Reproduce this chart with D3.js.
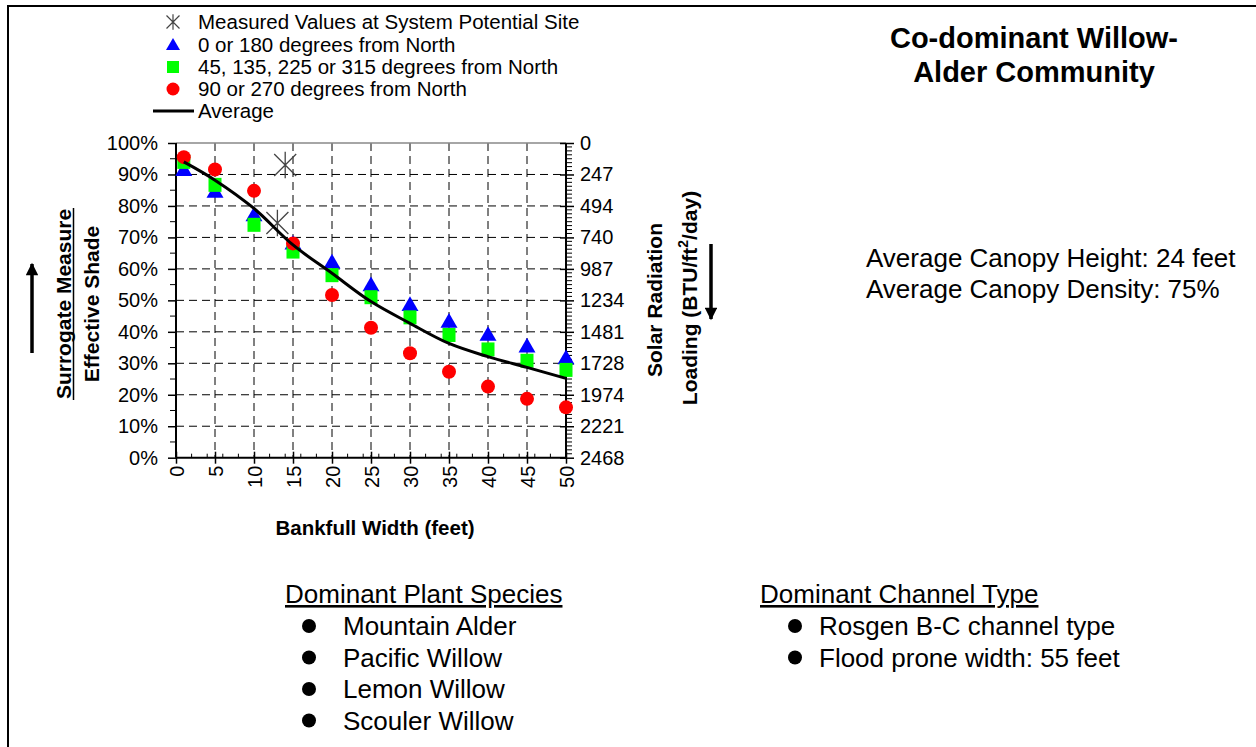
<!DOCTYPE html>
<html lang="en">
<head>
<meta charset="UTF-8">
<title>Co-dominant Willow-Alder Community</title>
<script src="https://d3js.org/d3.v7.min.js"></script>
<style>
  body { margin: 0; background: #fff; }
  svg { display: block; font-family: "Liberation Sans", Arial, sans-serif; }
</style>
</head>
<body>
<svg width="1256" height="747"></svg>
<script>
// data
const widths = [1, 5, 10, 15, 20, 25, 30, 35, 40, 45, 50];
const northSouth = [0.914, 0.845, 0.77, 0.68, 0.62, 0.548, 0.485, 0.432, 0.39, 0.353, 0.316];
const diagonal = [0.94, 0.867, 0.74, 0.655, 0.58, 0.51, 0.446, 0.39, 0.344, 0.308, 0.279];
const eastWest = [0.955, 0.916, 0.848, 0.681, 0.517, 0.413, 0.332, 0.273, 0.226, 0.187, 0.16];
const average = [0.94, 0.882, 0.792, 0.676, 0.586, 0.496, 0.427, 0.363, 0.321, 0.287, 0.252];
const measuredX = [14, 13];
const measuredY = [0.93, 0.746];
const xTicks = [0, 5, 10, 15, 20, 25, 30, 35, 40, 45, 50];
const yTicks = [0, 0.1, 0.2, 0.3, 0.4, 0.5, 0.6, 0.7, 0.8, 0.9, 1];
const loadTicks = [0, 247, 494, 740, 987, 1234, 1481, 1728, 1974, 2221, 2468];
const species = ["Mountain Alder", "Pacific Willow", "Lemon Willow", "Scouler Willow"];
const channel = ["Rosgen B-C channel type", "Flood prone width: 55 feet"];

const svg = d3.select("svg");

// outer frame
svg.append("rect").attr("x", 8).attr("y", 6).attr("width", 1256).attr("height", 760)
  .attr("fill", "none").attr("stroke", "#000").attr("stroke-width", 2);

const x = d3.scaleLinear().domain([0, 50]).range([176, 566]);
const y = d3.scaleLinear().domain([0, 1]).range([457.7, 143]);
const y2 = d3.scaleLinear().domain([0, 2468]).range([143, 457.7]);

// grid
const grid = svg.append("g").attr("stroke", "#000").attr("stroke-width", 1)
  .attr("stroke-dasharray", "8,5");
grid.selectAll(".gv").data(xTicks.slice(1, -1)).enter().append("line")
  .attr("x1", d => x(d)).attr("x2", d => x(d)).attr("y1", y(1)).attr("y2", y(0));
grid.selectAll(".gh").data(yTicks.slice(1, -1)).enter().append("line")
  .attr("x1", x(0)).attr("x2", x(50)).attr("y1", d => y(d)).attr("y2", d => y(d));
svg.append("line").attr("x1", x(0)).attr("x2", x(50)).attr("y1", y(1)).attr("y2", y(1))
  .attr("stroke", "#888").attr("stroke-width", 1.5);

// axes
const axisFont = g => g.selectAll("text").attr("font-size", 20).attr("fill", "#000")
  .attr("font-family", "Liberation Sans, Arial, sans-serif");

const xAxis = svg.append("g").attr("transform", `translate(0,${y(0)})`)
  .call(d3.axisBottom(x).tickValues(xTicks).tickSize(6).tickPadding(8));
xAxis.select(".domain").attr("stroke-width", 2).attr("d", `M${x(0)},0H${x(50)}`);
xAxis.selectAll(".tick line").attr("y1", -6).attr("stroke-width", 1.5);
xAxis.call(axisFont).selectAll("text").attr("transform", "rotate(-90)")
  .attr("text-anchor", "end").attr("dy", "0.35em").attr("x", -8).attr("y", 0);
svg.append("g").selectAll("line").data(d3.range(0, 51, 2).filter(v => v % 5 !== 0)).enter()
  .append("line").attr("x1", d => x(d)).attr("x2", d => x(d)).attr("y1", y(0) - 4).attr("y2", y(0))
  .attr("stroke", "#000");

const yAxis = svg.append("g").attr("transform", `translate(${x(0)},0)`)
  .call(d3.axisLeft(y).tickValues(yTicks).tickFormat(d3.format(".0%")).tickSize(8).tickPadding(10));
yAxis.select(".domain").attr("stroke-width", 2).attr("d", `M0,${y(0)}V${y(1)}`);
yAxis.selectAll(".tick line").attr("x2", -8).attr("stroke-width", 1.5);
yAxis.call(axisFont);
svg.append("g").selectAll("line").data(d3.range(0.05, 1, 0.1)).enter()
  .append("line").attr("x1", x(0) - 6).attr("x2", x(0)).attr("y1", d => y(d)).attr("y2", d => y(d))
  .attr("stroke", "#000");

const rAxis = svg.append("g").attr("transform", `translate(${x(50)},0)`)
  .call(d3.axisRight(y2).tickValues(d3.range(0, 11).map(i => i * 246.8))
    .tickFormat((d, i) => loadTicks[i]).tickSize(8).tickPadding(6));
rAxis.select(".domain").attr("stroke-width", 2).attr("d", `M0,${y2(0)}V${y2(2468)}`);
rAxis.selectAll(".tick line").attr("x1", -6).attr("stroke-width", 1.5);
rAxis.call(axisFont);
svg.append("g").selectAll("line").data(d3.range(0, 80).map(i => i * 246.8 / 8).filter((d, i) => i % 8 !== 0))
  .enter().append("line").attr("x1", x(50)).attr("x2", x(50) + 6)
  .attr("y1", d => y2(d)).attr("y2", d => y2(d)).attr("stroke", "#000");

// axis titles
svg.append("text").attr("x", 375).attr("y", 535).attr("text-anchor", "middle")
  .attr("font-size", 20.5).attr("font-weight", "bold").text("Bankfull Width (feet)");

const lt = svg.append("g").attr("font-size", 21).attr("font-weight", "bold").attr("text-anchor", "middle");
lt.append("text").attr("transform", "translate(71,304) rotate(-90)").text("Surrogate Measure");
lt.append("text").attr("transform", "translate(99,304) rotate(-90)").text("Effective Shade");
svg.append("line").attr("x1", 73.5).attr("x2", 73.5).attr("y1", 208).attr("y2", 400)
  .attr("stroke", "#000").attr("stroke-width", 1.5);
lt.append("text").attr("transform", "translate(662,300) rotate(-90)").text("Solar Radiation");
const ld = lt.append("text").attr("transform", "translate(697,298) rotate(-90)");
ld.append("tspan").text("Loading (BTU/ft");
ld.append("tspan").attr("font-size", 14).attr("dy", -9).text("2");
ld.append("tspan").attr("dy", 9).text("/day)");

// arrows
svg.append("defs").append("marker").attr("id", "ah").attr("viewBox", "0 0 10 10")
  .attr("refX", 9).attr("refY", 5).attr("markerWidth", 4.6).attr("markerHeight", 3.6)
  .attr("orient", "auto").append("path").attr("d", "M0,0L10,5L0,10Z").attr("fill", "#000");
svg.append("line").attr("x1", 32).attr("x2", 32).attr("y1", 353).attr("y2", 264)
  .attr("stroke", "#000").attr("stroke-width", 3.5).attr("marker-end", "url(#ah)");
svg.append("line").attr("x1", 711).attr("x2", 711).attr("y1", 244).attr("y2", 319)
  .attr("stroke", "#000").attr("stroke-width", 3.5).attr("marker-end", "url(#ah)");

// marks
const star = s => `M${-s},${-s}L${s},${s}M${-s},${s}L${s},${-s}M0,${-s * 1.2}V${s * 1.2}`;
svg.append("g").selectAll("path").data(measuredX).enter().append("path")
  .attr("d", star(11)).attr("transform", (d, i) => `translate(${x(d)},${y(measuredY[i])})`)
  .attr("stroke", "#444").attr("stroke-width", 1.3).attr("fill", "none");

const tri = d3.symbol().type(d3.symbolTriangle).size(125);
svg.append("g").selectAll("path").data(widths).enter().append("path")
  .attr("d", tri).attr("transform", (d, i) => `translate(${x(d)},${y(northSouth[i]) + 1})`)
  .attr("fill", "#0000ff");
svg.append("g").selectAll("rect").data(widths).enter().append("rect")
  .attr("x", d => x(d) - 6.5).attr("y", (d, i) => y(diagonal[i]) - 7)
  .attr("width", 13).attr("height", 14).attr("fill", "#00ff00");
svg.append("g").selectAll("circle").data(widths).enter().append("circle")
  .attr("cx", d => x(d)).attr("cy", (d, i) => y(eastWest[i])).attr("r", 7)
  .attr("fill", "#ff0000");

const line = d3.line().x(d => x(d[0])).y(d => y(d[1])).curve(d3.curveCatmullRom.alpha(0.5));
svg.append("path").datum(widths.map((w, i) => [w, average[i]])).attr("d", line)
  .attr("fill", "none").attr("stroke", "#000").attr("stroke-width", 3);

// legend
const lg = svg.append("g").attr("font-size", 20.5);
const rows = [22, 45, 67, 89, 111];
const labels = ["Measured Values at System Potential Site", "0 or 180 degrees from North",
  "45, 135, 225 or 315 degrees from North", "90 or 270 degrees from North", "Average"];
lg.selectAll("text").data(labels).enter().append("text")
  .attr("x", 198).attr("y", (d, i) => rows[i] + 7).text(d => d);
lg.append("path").attr("d", star(6.5)).attr("transform", `translate(173,${rows[0]})`)
  .attr("stroke", "#444").attr("stroke-width", 1.2).attr("fill", "none");
lg.append("path").attr("d", d3.symbol().type(d3.symbolTriangle).size(85))
  .attr("transform", `translate(173,${rows[1] + 1})`).attr("fill", "#0000ff");
lg.append("rect").attr("x", 167).attr("y", rows[2] - 6).attr("width", 12).attr("height", 12).attr("fill", "#00ff00");
lg.append("circle").attr("cx", 173).attr("cy", rows[3]).attr("r", 6.5).attr("fill", "#ff0000");
lg.append("line").attr("x1", 153).attr("x2", 194).attr("y1", rows[4]).attr("y2", rows[4])
  .attr("stroke", "#000").attr("stroke-width", 3);

// title and notes
const tt = svg.append("g").attr("font-size", 29).attr("font-weight", "bold").attr("text-anchor", "middle");
tt.append("text").attr("x", 1034).attr("y", 48).text("Co-dominant Willow-");
tt.append("text").attr("x", 1034).attr("y", 82).text("Alder Community");

const notes = svg.append("g").attr("font-size", 26);
notes.append("text").attr("x", 866).attr("y", 267).text("Average Canopy Height: 24 feet");
notes.append("text").attr("x", 866).attr("y", 298).text("Average Canopy Density: 75%");

notes.append("text").attr("x", 285).attr("y", 603).attr("text-decoration", "underline").text("Dominant Plant Species");
notes.selectAll(".sp").data(species).enter().append("text").attr("class", "sp")
  .attr("x", 343).attr("y", (d, i) => 635 + i * 31.5).text(d => d);
notes.selectAll(".spb").data(species).enter().append("circle").attr("class", "spb")
  .attr("cx", 309).attr("cy", (d, i) => 626 + i * 31.5).attr("r", 7).attr("fill", "#000");

notes.append("text").attr("x", 760).attr("y", 603).attr("text-decoration", "underline").text("Dominant Channel Type");
notes.selectAll(".ch").data(channel).enter().append("text").attr("class", "ch")
  .attr("x", 819).attr("y", (d, i) => 635 + i * 31.5).text(d => d);
notes.selectAll(".chb").data(channel).enter().append("circle").attr("class", "chb")
  .attr("cx", 795).attr("cy", (d, i) => 626 + i * 31.5).attr("r", 7).attr("fill", "#000");
</script>
</body>
</html>
